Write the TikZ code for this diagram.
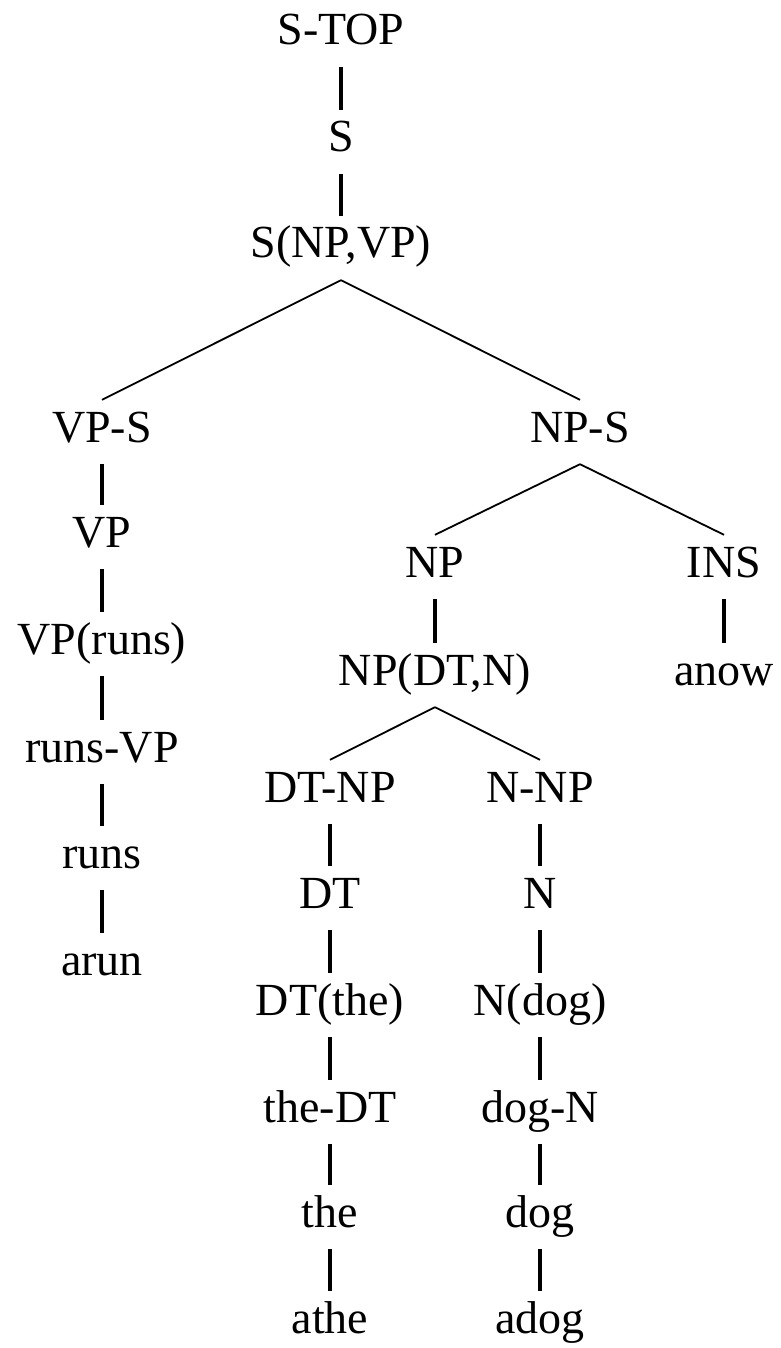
\documentclass[tikz,border=0pt]{standalone}
\usepackage{fontspec}
\setmainfont{Liberation Serif}
\begin{document}
\begin{tikzpicture}[x=1pt,y=-1pt,
  lbl/.style={font=\fontsize{46}{55}\selectfont, anchor=base,
    text height=30pt, text depth=10pt, inner ysep=12pt, inner xsep=0pt},
  vline/.style={line width=3.6pt},
  dline/.style={line width=1.8pt}]
\useasboundingbox (0,0) rectangle (780,1348);
% top chain
\node[lbl] (stop) at (341,45) {S-TOP};
\node[lbl] (s) at (341,152) {S};
\node[lbl] (snpvp) at (341,258) {S(NP,VP)};
% verb phrase branch
\node[lbl] (vps) at (102,442) {VP-S};
\node[lbl] (vp) at (102,547) {VP};
\node[lbl] (vpruns) at (102,654) {VP(runs)};
\node[lbl] (runsvp) at (102,762) {runs-VP};
\node[lbl] (runs) at (102,868) {runs};
\node[lbl] (arun) at (102,975) {arun};
% noun phrase branch
\node[lbl] (nps) at (580,442) {NP-S};
\node[lbl] (np) at (435,577) {NP};
\node[lbl] (ins) at (724,577) {INS};
\node[lbl] (npdtn) at (435,685) {NP(DT,N)};
\node[lbl] (anow) at (724,685) {anow};
\node[lbl] (dtnp) at (330,802) {DT-NP};
\node[lbl] (nnp) at (540,802) {N-NP};
\node[lbl] (dt) at (330,908) {DT};
\node[lbl] (n) at (540,908) {N};
\node[lbl] (dtthe) at (330,1015) {DT(the)};
\node[lbl] (ndog) at (540,1015) {N(dog)};
\node[lbl] (thedt) at (330,1122) {the-DT};
\node[lbl] (dogn) at (540,1122) {dog-N};
\node[lbl] (the) at (330,1227) {the};
\node[lbl] (dog) at (540,1227) {dog};
\node[lbl] (athe) at (330,1333) {athe};
\node[lbl] (adog) at (540,1333) {adog};
% unary links
\foreach \a/\b in {stop/s, s/snpvp, vps/vp, vp/vpruns, vpruns/runsvp,
    runsvp/runs, runs/arun, np/npdtn, ins/anow, dtnp/dt, dt/dtthe,
    dtthe/thedt, thedt/the, the/athe, nnp/n, n/ndog, ndog/dogn,
    dogn/dog, dog/adog}
  \draw[vline] (\a.south) -- (\b.north);
% branching links
\foreach \a/\b in {snpvp/vps, snpvp/nps, nps/np, nps/ins, npdtn/dtnp, npdtn/nnp}
  \draw[dline] (\a.south) -- (\b.north);
\end{tikzpicture}
\end{document}
